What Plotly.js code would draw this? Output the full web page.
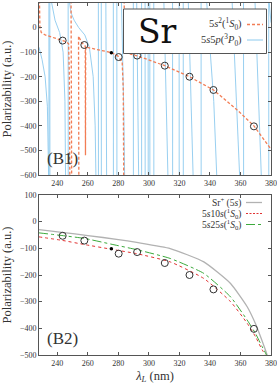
<!DOCTYPE html>
<html>
<head>
<meta charset="utf-8">
<script src="https://cdn.plot.ly/plotly-3.0.1.min.js"></script>
<style>html,body{margin:0;padding:0;background:#fff;}#chart{width:277px;height:385px;}</style>
</head>
<body>
<div id="chart"></div>
<script>
// ---------- data ----------
const xTicks = [240, 260, 280, 300, 320, 340, 360, 380];
const yTicksTop = [-600, -500, -400, -300, -200, -100, 0, 100];
const yTicksBottom = [-500, -400, -300, -200, -100, 0, 100];

// reference computed points (open circles)
const circleLambda = [243.5, 257.7, 280.2, 292.3, 310.4, 326.6, 342.3, 368.8];
const circleAlpha  = [-53, -71, -120, -114, -155, -200, -254, -402];
// small black dot
const dotLambda = [275.4];
const dotAlpha  = [-102];

// 5s^2 (1S0) branches (orange dashed)
const groundBranchX = [
  [228.3, 228.6, 229.5, 232, 236, 240, 243.5, 246, 247.4, 247.9, 248.2],
  [249.0, 249.2, 249.4],
  [253.9, 254.0, 254.1],
  [254.3, 255, 256, 257.7, 258.3, 258.45, 258.6, 262, 268, 275.5, 280, 282.5, 283.2, 283.5],
  [283.8, 284.1, 285, 288, 292.3, 298.8, 310.4, 326.6, 342.3, 357.8, 368.8, 380]
];
const groundBranchY = [
  [110, 0, -20, -30, -38, -45, -52, -58, -66, -200, -610],
  [110, -250, -610],
  [-37, -300, -610],
  [-40, -52, -62, -71, -76, -520, -79, -84, -91, -102, -117, -140, -250, -610],
  [110, -60, -95, -108, -115, -129, -155, -200, -254, -335, -400, -495]
];

// 5s5p (3P0) branches (light blue)
const excitedBranchX = [
  [228.0, 230.0, 232.0, 233.5, 234.3],
  [234.5, 234.55], [235.1, 235.15],
  [236.0, 238.5, 241.5, 243.8, 245.0, 245.4],
  [247.1, 247.15],
  [247.8, 249, 251, 254, 258, 261, 263.5, 264.8, 265.3],
  [266.9, 266.95], [268.8, 268.85], [271.8, 272.3], [276.7, 276.75], [279.0, 279.05],
  [282.0, 282.8, 283.6, 284.1],
  [289.8, 289.85],
  [292.0, 292.6, 293.3],
  [295.2, 295.25], [297.5, 297.55], [299.5, 299.55], [300.6, 300.65], [303.2, 303.25],
  [309.8, 310.8, 311.8, 312.5],
  [315.5, 315.55], [319.8, 319.85], [322.5, 322.55],
  [325.8, 327, 328.2, 329],
  [334.2, 334.25],
  [337.8, 340, 342.5, 344.5],
  [354.5, 356.5, 358.5, 359.5],
  [362.0, 362.05],
  [369.5, 371, 372.8, 373.7],
  [378.5, 378.55],
  [378.7, 379.3, 380]
];
const excitedBranchY = [
  [-80, -130, -200, -320, -610],
  [110, -610], [110, -610],
  [110, 30, -20, -100, -300, -610],
  [110, -610],
  [110, 60, 30, 0, -30, -80, -200, -400, -610],
  [110, -610], [110, -610], [110, -610], [110, -610], [110, -610],
  [110, -100, -350, -610],
  [110, -610],
  [110, -250, -610],
  [110, -610], [110, -610], [110, -610], [110, -610], [110, -610],
  [110, -150, -400, -610],
  [110, -610], [110, -610], [110, -610],
  [110, -200, -450, -610],
  [110, -610],
  [110, -100, -300, -610],
  [110, -200, -450, -610],
  [110, -610],
  [110, -150, -400, -610],
  [110, -610],
  [110, 50, 20]
];

// panel B2 smooth curves
const ionLambda  = [228, 243, 260, 280, 292, 314, 336, 353.5, 364.4, 370, 373.1, 377.8, 379.5];
const ionAlpha   = [-30, -40, -52, -67, -78, -101, -151, -232, -319, -385, -431, -506, -545];
const ryd25Lambda = [228, 243, 258, 275, 292, 314, 336, 353.5, 364.4, 370, 374.2, 377.5, 378.5];
const ryd25Alpha  = [-42, -52, -63, -84, -105, -138, -194, -282, -369, -421, -469, -506, -560];
const ryd10Lambda = [228, 243, 258, 275, 292, 314, 336, 353.5, 364.4, 370, 374.2, 377.0, 378.0];
const ryd10Alpha  = [-57, -70, -86, -103, -120, -151, -213, -300, -381, -433, -481, -506, -560];

// legend labels
const legendTop = ["5<i>s</i><sup>2</sup>(<sup>1</sup><i>S</i><sub>0</sub>)", "5<i>s</i>5<i>p</i>(<sup>3</sup><i>P</i><sub>0</sub>)"];
const legendBottom = ["Sr<sup>+</sup> (5<i>s</i>)", "5<i>s</i>10<i>s</i>(<sup>1</sup><i>S</i><sub>0</sub>)", "5<i>s</i>25<i>s</i>(<sup>1</sup><i>S</i><sub>0</sub>)"];

// ---------- build ----------
function flatten(branches) {
  const out = [];
  branches.forEach((b, i) => { if (i > 0) out.push(null); b.forEach(v => out.push(v)); });
  return out;
}

const FONT = "Liberation Serif";
const BIGFONT = "DejaVu Serif";
const TXT = "#333";
const C_ORANGE = "rgb(242,125,85)";
const C_BLUE = "rgb(140,202,238)";
const C_GREY = "rgb(178,178,178)";
const C_RED = "rgb(225,50,50)";
const C_GREEN = "rgb(60,170,60)";

const traces = [
  { x: flatten(excitedBranchX), y: flatten(excitedBranchY), xaxis: "x", yaxis: "y",
    mode: "lines", line: { color: C_BLUE, width: 0.9 }, connectgaps: false, hoverinfo: "skip", showlegend: false },
  { x: flatten(groundBranchX), y: flatten(groundBranchY), xaxis: "x", yaxis: "y",
    mode: "lines", line: { color: C_ORANGE, width: 1.3, dash: "3px,2px" }, connectgaps: false, hoverinfo: "skip", showlegend: false },
  { x: circleLambda, y: circleAlpha, xaxis: "x", yaxis: "y", mode: "markers",
    marker: { symbol: "circle-open", size: 7, color: "#333", line: { width: 1, color: "#333" } }, showlegend: false },
  { x: dotLambda, y: dotAlpha, xaxis: "x", yaxis: "y", mode: "markers",
    marker: { size: 3.5, color: "#000" }, showlegend: false },

  { x: ionLambda, y: ionAlpha, xaxis: "x2", yaxis: "y2", mode: "lines",
    line: { color: C_GREY, width: 1.3, shape: "spline", smoothing: 0.5 }, showlegend: false },
  { x: ryd10Lambda, y: ryd10Alpha, xaxis: "x2", yaxis: "y2", mode: "lines",
    line: { color: C_RED, width: 1, dash: "dot", shape: "spline", smoothing: 0.5 }, showlegend: false },
  { x: ryd25Lambda, y: ryd25Alpha, xaxis: "x2", yaxis: "y2", mode: "lines",
    line: { color: C_GREEN, width: 1, dash: "dashdot", shape: "spline", smoothing: 0.5 }, showlegend: false },
  { x: circleLambda, y: circleAlpha, xaxis: "x2", yaxis: "y2", mode: "markers",
    marker: { symbol: "circle-open", size: 7, color: "#333", line: { width: 1, color: "#333" } }, showlegend: false },
  { x: dotLambda, y: dotAlpha, xaxis: "x2", yaxis: "y2", mode: "markers",
    marker: { size: 3.5, color: "#000" }, showlegend: false }
];

// paper coordinate helpers (plot area: px 39..271, py 3..355)
const L = 39, W = 232, B = 355, H = 352;
const px = v => (v - L) / W;
const py = v => (B - v) / H;

const axisCommon = {
  range: [228, 380], tickvals: xTicks, ticks: "inside", ticklen: 3, tickcolor: "#555",
  showline: true, linecolor: "#555", linewidth: 1, mirror: "ticks", zeroline: false, showgrid: false,
  tickfont: { family: FONT, size: 8, color: TXT }
};
const yCommon = {
  ticks: "inside", ticklen: 3, tickcolor: "#555", showline: true, linecolor: "#555", linewidth: 1,
  mirror: "ticks", zeroline: false, showgrid: false, tickfont: { family: FONT, size: 8, color: TXT },
  title: { text: "Polarizability (a.u.)", font: { family: FONT, size: 12.5, color: TXT }, standoff: 5 }
};

const annotations = [
  { text: "Sr", x: px(157), y: py(31), xref: "paper", yref: "paper", showarrow: false,
    font: { family: BIGFONT, size: 33, color: "#111" }, xanchor: "center", yanchor: "middle" },
  { text: "(B1)", x: px(62), y: py(158), xref: "paper", yref: "paper", showarrow: false,
    font: { family: FONT, size: 17, color: TXT }, xanchor: "center", yanchor: "middle" },
  { text: "(B2)", x: px(62), y: py(338), xref: "paper", yref: "paper", showarrow: false,
    font: { family: FONT, size: 17, color: TXT }, xanchor: "center", yanchor: "middle" }
];
const topRows = [24.5, 40];
legendTop.forEach((t, i) => annotations.push({ text: t, x: px(244), y: py(topRows[i]), xref: "paper", yref: "paper",
  showarrow: false, xanchor: "right", yanchor: "middle", font: { family: FONT, size: 10.5, color: TXT } }));
const botRows = [202.5, 213.5, 224.5];
legendBottom.forEach((t, i) => annotations.push({ text: t, x: px(243), y: py(botRows[i]), xref: "paper", yref: "paper",
  showarrow: false, xanchor: "right", yanchor: "middle", font: { family: FONT, size: 9.5, color: TXT } }));

const shapes = [
  { type: "rect", xref: "paper", yref: "paper", x0: px(123.5), x1: px(266.5), y0: py(53.5), y1: py(9),
    line: { color: "#555", width: 1 }, fillcolor: "#fff", layer: "above" },
  { type: "line", xref: "paper", yref: "paper", x0: px(247), x1: px(263), y0: py(topRows[0]), y1: py(topRows[0]),
    line: { color: C_ORANGE, width: 1.3, dash: "3px,2px" }, layer: "above" },
  { type: "line", xref: "paper", yref: "paper", x0: px(247), x1: px(263), y0: py(topRows[1]), y1: py(topRows[1]),
    line: { color: C_BLUE, width: 1 }, layer: "above" },
  { type: "line", xref: "paper", yref: "paper", x0: px(246), x1: px(262), y0: py(botRows[0]), y1: py(botRows[0]),
    line: { color: C_GREY, width: 1.3 }, layer: "above" },
  { type: "line", xref: "paper", yref: "paper", x0: px(246), x1: px(262), y0: py(botRows[1]), y1: py(botRows[1]),
    line: { color: C_RED, width: 1, dash: "2px,1.5px" }, layer: "above" },
  { type: "line", xref: "paper", yref: "paper", x0: px(246), x1: px(262), y0: py(botRows[2]), y1: py(botRows[2]),
    line: { color: C_GREEN, width: 1, dash: "dashdot" }, layer: "above" }
];

const layout = {
  width: 277, height: 385,
  margin: { l: 39, r: 6, t: 3, b: 30, pad: 0 },
  paper_bgcolor: "#fff", plot_bgcolor: "#fff",
  font: { family: FONT, color: TXT },
  showlegend: false,
  xaxis: Object.assign({}, axisCommon, { anchor: "y", domain: [0, 1] }),
  yaxis: Object.assign({}, yCommon, { range: [-600, 100], tickvals: yTicksTop, anchor: "x", domain: [py(175), 1] }),
  xaxis2: Object.assign({}, axisCommon, { anchor: "y2", domain: [0, 1],
    title: { text: "<i>λ</i><sub><i>L</i></sub> (nm)", font: { family: FONT, size: 12.5, color: TXT }, standoff: 4 } }),
  yaxis2: Object.assign({}, yCommon, { range: [-500, 100], tickvals: yTicksBottom, anchor: "x2", domain: [0, py(195)] }),
  annotations: annotations,
  shapes: shapes
};

Plotly.newPlot("chart", traces, layout, { staticPlot: true, displayModeBar: false });
</script>
</body>
</html>
